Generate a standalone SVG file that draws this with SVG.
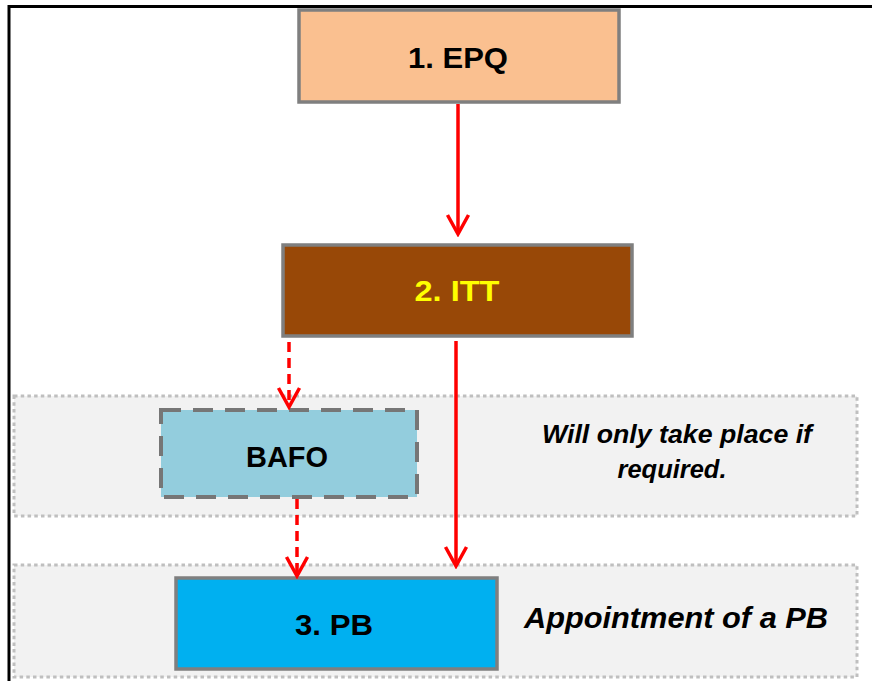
<svg xmlns="http://www.w3.org/2000/svg" width="872" height="681" viewBox="0 0 872 681">
<defs>
<style>
.box{stroke:#7F7F7F;stroke-width:3.5}
.band{fill:#F2F2F2;stroke:#BFBFBF;stroke-width:3;stroke-dasharray:3.5 3.2}
.lbl{font-family:"Liberation Sans",Arial,sans-serif;font-weight:bold;font-size:30px;text-anchor:middle}
.note{font-family:"Liberation Sans",Arial,sans-serif;font-weight:bold;font-style:italic;fill:#000;text-anchor:middle}
.conn{fill:none;stroke:#FF0000;stroke-width:3.5}
.dash{stroke-dasharray:10 6}
</style>
<marker id="arr" viewBox="0 0 24 26" refX="21" refY="13" markerWidth="24" markerHeight="26" markerUnits="userSpaceOnUse" orient="auto">
<path d="M2,2.5 L21,13 L2,23.5" fill="none" stroke="#FF0000" stroke-width="3.5" stroke-dasharray="none"/>
</marker>
</defs>
<rect width="872" height="681" fill="#FFFFFF"/>
<path d="M9,681 V6.5 H872" fill="none" stroke="#000" stroke-width="3"/>
<g id="band-bafo">
<rect class="band" x="14" y="396" width="843" height="120"/>
<text class="note" font-size="25" x="677" y="443" textLength="270" lengthAdjust="spacingAndGlyphs">Will only take place if</text>
<text class="note" font-size="25" x="672" y="478" textLength="109" lengthAdjust="spacingAndGlyphs">required.</text>
</g>
<g id="band-pb">
<rect class="band" x="14" y="565" width="843" height="112"/>
<text class="note" font-size="29" x="676" y="628" textLength="304" lengthAdjust="spacingAndGlyphs">Appointment of a PB</text>
</g>
<g id="node-epq">
<rect class="box" x="299" y="10" width="320" height="92" fill="#FAC090"/>
<text class="lbl" x="458" y="68" fill="#000" textLength="100" lengthAdjust="spacingAndGlyphs">1. EPQ</text>
</g>
<g id="node-itt">
<rect class="box" x="283" y="245" width="349" height="91" fill="#984807"/>
<text class="lbl" x="457" y="301" fill="#FFFF00" textLength="85" lengthAdjust="spacingAndGlyphs">2. ITT</text>
</g>
<g id="node-bafo">
<rect x="161" y="410" width="256" height="87" fill="#93CDDD" stroke="#767676" stroke-width="4" stroke-dasharray="20 12"/>
<text class="lbl" x="287" y="467" fill="#000" textLength="82" lengthAdjust="spacingAndGlyphs">BAFO</text>
</g>
<g id="node-pb">
<rect class="box" x="176" y="578" width="321" height="91" fill="#00B0F0"/>
<text class="lbl" x="334" y="635" fill="#000" textLength="78" lengthAdjust="spacingAndGlyphs">3. PB</text>
</g>
<g id="connectors">
<path class="conn" d="M458,104 V234" marker-end="url(#arr)"/>
<path class="conn" d="M456,341 V566" marker-end="url(#arr)"/>
<path class="conn dash" d="M289,342 V407" marker-end="url(#arr)"/>
<path class="conn dash" d="M297,499 V576" marker-end="url(#arr)"/>
</g>
</svg>
